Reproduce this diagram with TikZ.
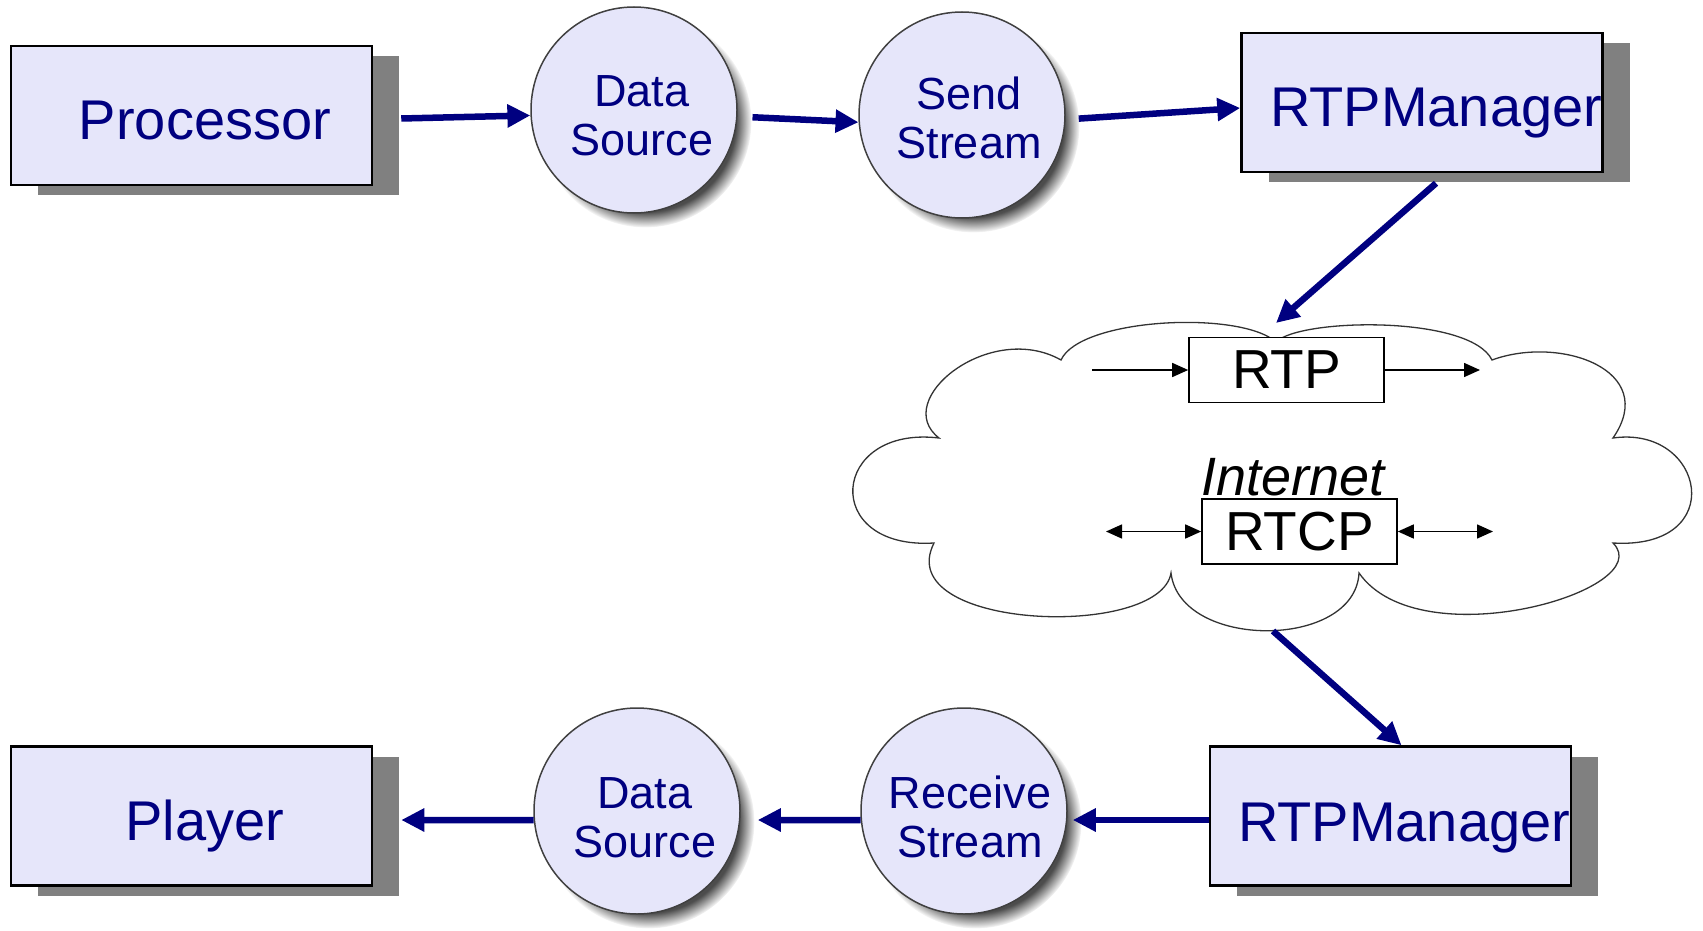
\documentclass[tikz,border=0pt]{standalone}
\usepackage{fontspec}
\setmainfont{Liberation Sans}
\usetikzlibrary{arrows.meta,shadows,fadings}
\definecolor{navy}{HTML}{000080}
\definecolor{boxfill}{HTML}{E6E6FA}
\definecolor{shadowgray}{HTML}{808080}
\begin{document}
\begin{tikzpicture}[x=1pt,y=-1pt,
  blockbox/.style={draw=black, line width=2.5pt, fill=boxfill,
    minimum width=361pt, minimum height=139pt, inner sep=0pt,
    drop shadow={shadow xshift=27pt, shadow yshift=-10pt, fill=shadowgray, opacity=1}},
  bubble/.style={circle, draw=black!75, line width=1.5pt, fill=boxfill,
    minimum size=206pt, inner sep=0pt,
    circular drop shadow={shadow scale=1.03, shadow xshift=11pt, shadow yshift=-11pt,
      fill=black!70, path fading={circle with fuzzy edge 15 percent}}},
  bigtext/.style={text=navy, font=\fontsize{56}{60}\selectfont, inner sep=0pt},
  bubbletext/.style={text=navy, align=center, inner sep=0pt,
    font=\fontsize{45}{49}\selectfont},
  protobox/.style={draw=black, line width=1.6pt, fill=white,
    minimum width=195pt, minimum height=65pt, inner sep=0pt,
    font=\fontsize{55}{60}\selectfont},
  flow/.style={draw=navy, line width=6.5pt, -{Triangle[length=23pt,width=22pt]}},
  thinflow/.style={draw=black, line width=1.5pt, -{Triangle[length=16pt,width=14pt]}},
  twoway/.style={draw=black, line width=1.5pt,
    {Triangle[length=16pt,width=14pt]}-{Triangle[length=16pt,width=14pt]}},
  cloudline/.style={draw=black!80, line width=1.3pt, fill=white}
]
\useasboundingbox (0,0) rectangle (1703,931);

% ---- sending side ----
\node[blockbox] (proc)  at (191.5,115.5) {};
\node[bigtext, anchor=base] (proctext) at (205,140) {Processor};

% two-line labels: the base anchor sits on the last line
\node[bubble] (ds1) at (634,110) {};
\node[bubbletext, anchor=base] (ds1text) at (642,156) {Data\\Source};

\node[bubble] (ss) at (962,115) {};
\node[bubbletext, anchor=base] (sstext) at (969,159) {Send\\Stream};

\node[blockbox] (rtpm1) at (1422,102.5) {};
\node[bigtext, anchor=base west] (rtpm1text) at (1270,127) {RTPManager};

% ---- the network cloud ----
\coordinate (cloudtop) at (1276,323);
\coordinate (cloudbottom) at (1273,631);
\path[cloudline]
  (1276,342) .. controls (1300,318) and (1470,315) .. (1492,360)
  .. controls (1560,335) and (1660,370) .. (1613,438)
  .. controls (1705,425) and (1730,550) .. (1613,543)
  .. controls (1660,590) and (1420,660) .. (1359,573)
  .. controls (1355,650) and (1180,650) .. (1171,573)
  .. controls (1160,640) and (890,630) .. (934,543)
  .. controls (820,550) and (830,425) .. (939,438)
  .. controls (890,400) and (990,320) .. (1061,360)
  .. controls (1080,318) and (1240,310) .. cycle;

\node[protobox] (rtp) at (1286.5,370) {RTP};
\coordinate (rtpin) at (1092,370);
\coordinate (rtpout) at (1480,370);
\draw[thinflow] (rtpin) -- (rtp.west);
\draw[thinflow] (rtp.east) -- (rtpout);

\node[anchor=base, inner sep=0pt, font=\itshape\fontsize{54}{58}\selectfont]
  (internet) at (1293,495) {Internet};

\node[protobox] (rtcp) at (1299.5,531.5) {RTCP};
\coordinate (rtcpleft) at (1106,531.5);
\coordinate (rtcpright) at (1493,531.5);
\draw[twoway] (rtcpleft) -- (rtcp.west);
\draw[twoway] (rtcp.east) -- (rtcpright);

% ---- receiving side ----
\node[blockbox] (rtpm2) at (1390.5,816) {};
\node[bigtext, anchor=base west] (rtpm2text) at (1238,841) {RTPManager};

\node[bubble] (rs) at (964,811) {};
\node[bubbletext, anchor=base] (rstext) at (970,857) {Receive\\Stream};

\node[bubble] (ds2) at (637,811) {};
\node[bubbletext, anchor=base] (ds2text) at (645,857) {Data\\Source};

\node[blockbox] (player) at (191.5,816) {};
\node[bigtext, anchor=base] (playertext) at (205,840) {Player};

% ---- data flow ----
\draw[flow] ([shift={(28,3)}]proc.east) -- (ds1.183);
\draw[flow] ([xshift=15pt]ds1.356) -- (ss.184);
\draw[flow] ([xshift=13pt]ss.358) -- ([shift={(0,5.5)}]rtpm1.west);
\draw[flow] ([shift={(14,10)}]rtpm1.south) -- (cloudtop);
\draw[flow] (cloudbottom) -- ([shift={(11,0)}]rtpm2.north);
\draw[flow] ([shift={(0,4)}]rtpm2.west) -- ([shift={(5,9)}]rs.east);
\draw[flow] (rs.185) -- ([shift={(17,9)}]ds2.east);
\draw[flow] (ds2.185) -- ([shift={(28,4)}]player.east);
\end{tikzpicture}
\end{document}
